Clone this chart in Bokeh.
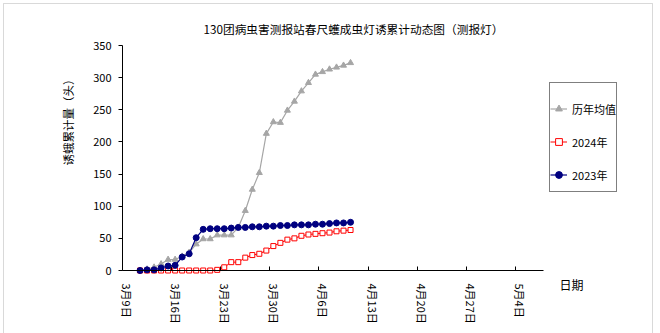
import math
import pandas as pd
from bokeh.plotting import figure
from bokeh.models import (Range1d, FixedTicker, Legend, LegendItem, Label,
                          ColumnDataSource, BoxAnnotation, LinearAxis)
from bokeh.embed import file_html
from bokeh.resources import INLINE

# ---------------- data ----------------
axis_start = "2024-03-09"
first_day = "2024-03-11"
last_day = "2024-04-10"

avg_hist = [0, 2, 5, 10, 17, 17, 22, 28, 41, 49, 49, 55, 55, 55, 67, 93,
            126, 152, 213, 231, 230, 249, 263, 279, 292, 305, 309, 313, 316, 319, 323]
y2024 = [0, 0, 0, 0, 0, 0, 0, 0, 0, 0, 0, 1, 5, 13, 13, 20,
         24, 26, 31, 38, 43, 48, 50, 54, 56, 57, 58, 59, 61, 62, 63]
y2023 = [0, 1, 1, 4, 7, 8, 21, 26, 51, 64, 65, 65, 65, 66, 67, 67,
         68, 68, 69, 69, 70, 70, 71, 71, 71, 72, 72, 73, 74, 74, 75]

tick_labels = ["3月9日", "3月16日", "3月23日", "3月30日", "4月6日",
               "4月13日", "4月20日", "4月27日", "5月4日"]
y_ticks = [0, 50, 100, 150, 200, 250, 300, 350]

series_names = ["历年均值", "2024年", "2023年"]
title_text = "130团病虫害测报站春尺蠖成虫灯诱累计动态图（测报灯）"
y_title = "诱蛾累计量（头）"
x_title = "日期"

# ---------------- derived positions ----------------
t0 = pd.Timestamp(axis_start)
dates = pd.date_range(first_day, last_day, freq="D")
xpos = [(d - t0).days + 0.5 for d in dates]   # points sit between ticks (Excel date axis)
tick_dates = pd.date_range(axis_start, periods=len(tick_labels), freq="7D")
tick_pos = [(d - t0).days for d in tick_dates]

src = ColumnDataSource(dict(x=xpos, avg=avg_hist, y24=y2024, y23=y2023))

FONT = "Noto Sans CJK SC"
W, H = 660, 333
# plot area in pixels (axes drawn at fixed data locations inside a full-canvas frame)
PX_L, PX_R, PX_T, PX_B = 122, 543, 45, 270
X_MAX, Y_MAX = 60, 350
kx = (PX_R - PX_L) / X_MAX
ky = (PX_B - PX_T) / Y_MAX
x_rng = Range1d(-PX_L / kx, X_MAX + (W - PX_R) / kx)
y_rng = Range1d(-(H - PX_B) / ky, Y_MAX + PX_T / ky)

p = figure(width=W, height=H, output_backend="svg", toolbar_location=None,
           x_range=x_rng, y_range=y_rng,
           min_border_left=0, min_border_right=0,
           min_border_top=0, min_border_bottom=0)
p.outline_line_color = None
p.xgrid.visible = False
p.ygrid.visible = False
p.background_fill_color = "white"
p.border_fill_color = "white"

# axes
ya = p.yaxis[0]
ya.fixed_location = 0
ya.bounds = (0, Y_MAX)
ya.ticker = FixedTicker(ticks=y_ticks)
ya.major_tick_out = 4
ya.major_tick_in = 0
ya.minor_tick_line_color = None
ya.axis_line_color = "black"
ya.major_tick_line_color = "black"
ya.major_label_standoff = 7
ya.major_label_text_font = FONT
ya.major_label_text_font_size = "11px"
ya.major_label_text_color = "black"

xa = p.xaxis[0]
xa.fixed_location = 0
xa.bounds = (0, X_MAX)
xa.ticker = FixedTicker(ticks=tick_pos)
xa.major_tick_in = 4
xa.major_tick_out = 0
xa.minor_tick_line_color = None
xa.axis_line_color = "black"
xa.major_tick_line_color = "black"
xa.major_label_text_color = None

# tick-label axis: Excel draws the rotated labels a few pixels right of each tick
lab_shift = 4.5 / kx
lab_pos = [tp + lab_shift for tp in tick_pos]
xl = LinearAxis(fixed_location=0, ticker=FixedTicker(ticks=lab_pos),
                major_label_overrides={lp: lab for lp, lab in zip(lab_pos, tick_labels)},
                axis_line_color=None, major_tick_line_color=None,
                minor_tick_line_color=None,
                major_label_orientation=-math.pi / 2, major_label_standoff=7,
                major_label_text_font=FONT, major_label_text_font_size="11px",
                major_label_text_color="black")
p.add_layout(xl, "below")

# series (drawing order: avg, 2024, 2023)
gray = "#A6A6A6"
red = "#FF0000"
navy = "#000080"

l_avg = p.line("x", "avg", source=src, line_color=gray, line_width=1.2)
m_avg = p.scatter("x", "avg", source=src, marker="triangle", size=6,
                  fill_color=gray, line_color=gray)
l_24 = p.line("x", "y24", source=src, line_color=red, line_width=1)
m_24 = p.scatter("x", "y24", source=src, marker="square", size=5,
                 fill_color="white", line_color=red, line_width=1)
l_23 = p.line("x", "y23", source=src, line_color=navy, line_width=1.2)
m_23 = p.scatter("x", "y23", source=src, marker="circle", size=6,
                 fill_color=navy, line_color=navy)

legend = Legend(items=[
    LegendItem(label=series_names[0], renderers=[l_avg, m_avg]),
    LegendItem(label=series_names[1], renderers=[l_24, m_24]),
    LegendItem(label=series_names[2], renderers=[l_23, m_23]),
], location=(549, H - 192), padding=0, spacing=0, margin=0,
    title=" ", title_text_font_size="2px", title_standoff=7,
    label_height=33, glyph_height=33, glyph_width=17, label_standoff=5,
    border_line_color="black", border_line_width=1,
    label_text_font=FONT, label_text_font_size="11px", label_text_color="black",
    background_fill_color="white", background_fill_alpha=1)
p.add_layout(legend)

# texts (screen units measured from the canvas bottom-left)
p.add_layout(Label(x=203, y=H - 28, x_units="screen", y_units="screen", text=title_text,
                   text_font=FONT, text_font_size="11.7px", text_color="black",
                   text_align="left", text_baseline="middle"))
p.add_layout(Label(x=67, y=H - 119, x_units="screen", y_units="screen", text=y_title,
                   angle=math.pi / 2, text_font=FONT, text_font_size="11.5px",
                   text_color="black", text_align="center", text_baseline="middle"))
p.add_layout(Label(x=559, y=H - 284, x_units="screen", y_units="screen", text=x_title,
                   text_font=FONT, text_font_size="12px", text_color="black",
                   text_align="left", text_baseline="middle"))

# chart-area border
p.add_layout(BoxAnnotation(left=3, right=652, top=H - 3, bottom=-10,
                           left_units="screen", right_units="screen",
                           top_units="screen", bottom_units="screen",
                           fill_alpha=0, line_color="#808080", line_width=1))

open("out.html", "w").write(file_html(p, INLINE))
